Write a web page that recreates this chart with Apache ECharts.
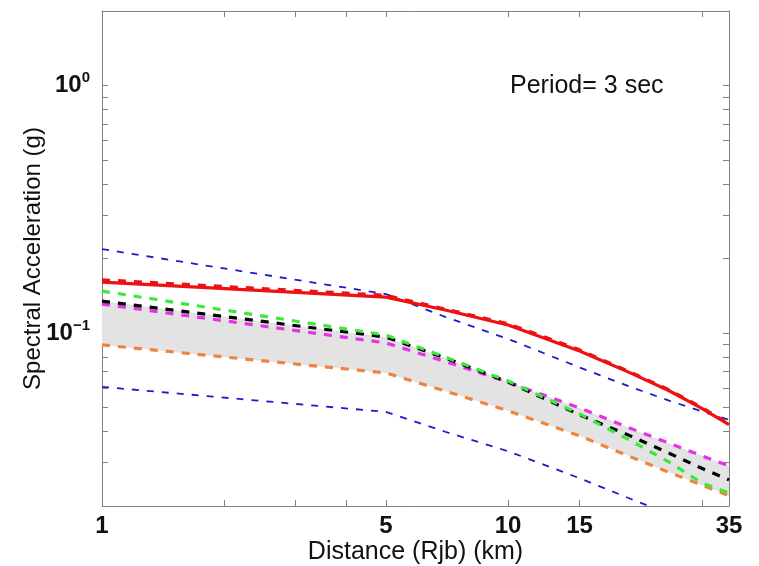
<!DOCTYPE html>
<html><head><meta charset="utf-8">
<script src="https://cdn.jsdelivr.net/npm/echarts@6/dist/echarts.min.js"></script>
<style>html,body{margin:0;padding:0;background:#fff}#c{width:759px;height:566px}</style>
</head><body><div id="c"></div>
<script>
// distances (km)
var dist = [1, 5, 7, 10, 15, 20, 25, 30, 35];
var distLower = [1, 5, 7, 10, 15, 20, 25];
// spectral acceleration (g)
var redSolid  = [0.1605, 0.1397, 0.1238, 0.1077, 0.0846, 0.0690, 0.0583, 0.0496, 0.0426];
var redDashed = [0.164, 0.142, 0.125, 0.109, 0.0855, 0.0695, 0.0588, 0.0500, 0.0430];
var blueUpper = [0.2182, 0.1437, 0.1162, 0.0946, 0.0726, 0.0606, 0.0532, 0.0482, 0.0446];
var green     = [0.1477, 0.0981, 0.0800, 0.0640, 0.0471, 0.0368, 0.0300, 0.0248, 0.0226];
var black     = [0.1346, 0.0963, 0.0793, 0.0634, 0.0467, 0.0384, 0.0326, 0.0284, 0.0255];
var magenta   = [0.1309, 0.0912, 0.0767, 0.0633, 0.0498, 0.0412, 0.0358, 0.0319, 0.0291];
var orange    = [0.0895, 0.0690, 0.0583, 0.0485, 0.0384, 0.0316, 0.0273, 0.0243, 0.0220];
var blueLower = [0.0606, 0.0480, 0.0399, 0.0333, 0.0259, 0.0214, 0.0185];
// ticks
var xLabelVals = [1, 5, 10, 15, 35];
var xTickVals = [1, 2, 3, 4, 5, 10, 15, 30, 35];
var yLabelVals = [0.1, 1];
var yTickVals = [0.02,0.03,0.04,0.05,0.06,0.07,0.08,0.09,0.1,0.2,0.3,0.4,0.5,0.6,0.7,0.8,0.9,1,2];

var FONT = 'Liberation Sans';
function pairs(xs, ys){ return xs.map(function(x,i){ return [x, ys[i]]; }); }
function lineSeries(name, xs, ys, color, width, dash, z){
  return { name: name, type: 'line', data: pairs(xs, ys), symbol: 'none', z: z || 3,
    lineStyle: { color: color, width: width, type: dash }, silent: true, animation: false };
}
var bandUpper = black.map(function(v,i){ return Math.max(v, magenta[i]); });

var chart = echarts.init(document.getElementById('c'), null, {renderer:'canvas'});
var axisCommon = {
  axisLine: { show: true, lineStyle: { color: '#808080', width: 1 } },
  splitLine: { show: false }
};
var option = {
  animation: false,
  grid: { left: 102, right: 30, top: 11, bottom: 60, show: false, containLabel: false, outerBoundsMode: 'none' },
  xAxis: [
    Object.assign({}, axisCommon, {
      type: 'log', logBase: 10, min: 1, max: 35, position: 'bottom',
      name: 'Distance (Rjb) (km)', nameLocation: 'middle', nameGap: 34, nameMoveOverlap: false,
      nameTextStyle: { fontFamily: FONT, fontSize: 25, color: '#111' },
      axisTick: { show: true, inside: true, length: 6, customValues: xTickVals, lineStyle: { color: '#808080' } },
      axisLabel: { show: true, customValues: xLabelVals, margin: 8, fontFamily: FONT, fontSize: 24, fontWeight: 'bold', color: '#111',
        formatter: function(v){ return String(v); } }
    }),
    Object.assign({}, axisCommon, {
      type: 'log', logBase: 10, min: 1, max: 35, position: 'top',
      axisTick: { show: true, inside: true, length: 6, customValues: xTickVals, lineStyle: { color: '#808080' } },
      axisLabel: { show: false }
    })
  ],
  yAxis: [
    Object.assign({}, axisCommon, {
      type: 'log', logBase: 10, min: 0.02, max: 2, position: 'left',
      name: 'Spectral Acceleration (g)', nameLocation: 'middle', nameGap: 57, nameRotate: 90, nameMoveOverlap: false,
      nameTextStyle: { fontFamily: FONT, fontSize: 24, color: '#111' },
      axisTick: { show: true, inside: true, length: 6, customValues: yTickVals, lineStyle: { color: '#808080' } },
      axisLabel: { show: true, customValues: yLabelVals, margin: 12,
        formatter: function(v){ return v >= 1 ? '{b|10}{s|0}' : '{b|10}{s|\u22121}'; },
        rich: {
          b: { fontFamily: FONT, fontSize: 24, fontWeight: 'bold', color: '#111', lineHeight: 30 },
          s: { fontFamily: FONT, fontSize: 15, fontWeight: 'bold', color: '#111', verticalAlign: 'top', lineHeight: 30, padding: [0,0,12,0] }
        } }
    }),
    Object.assign({}, axisCommon, {
      type: 'log', logBase: 10, min: 0.02, max: 2, position: 'right',
      axisTick: { show: true, inside: true, length: 6, customValues: yTickVals, lineStyle: { color: '#808080' } },
      axisLabel: { show: false }
    })
  ],
  graphic: [{
    type: 'text', left: 510, top: 74, z: 10,
    style: { text: 'Period= 3 sec', fontFamily: FONT, fontSize: 25, fill: '#111' }
  }],
  series: [
    { type: 'custom', z: 1, silent: true, clip: true,
      data: pairs(dist, bandUpper),
      encode: { x: 0, y: 1 },
      renderItem: function(params, api){
        if (params.dataIndex !== 0) return null;
        var pts = [];
        for (var i = 0; i < dist.length; i++) pts.push(api.coord([dist[i], bandUpper[i]]));
        for (var j = dist.length - 1; j >= 0; j--) pts.push(api.coord([dist[j], orange[j]]));
        return { type: 'polygon', shape: { points: pts }, style: { fill: '#e3e3e3' } };
      }
    },
    lineSeries('blueUpper', dist, blueUpper, '#1c1cc8', 1.8, [7, 8], 3),
    lineSeries('blueLower', distLower, blueLower, '#1c1cc8', 1.8, [7, 8], 3),
    lineSeries('orange', dist, orange, '#f0843c', 3.2, [8, 8], 4),
    lineSeries('magenta', dist, magenta, '#e632e6', 3.2, [8, 8], 4),
    lineSeries('black', dist, black, '#000000', 3.2, [8, 8], 5),
    lineSeries('green', dist, green, '#3de83d', 3.2, [8, 8], 5),
    lineSeries('redSolid', dist, redSolid, '#ee1111', 3.2, 'solid', 6),
    lineSeries('redDashed', dist, redDashed, '#ee1111', 3.2, [8, 8], 6)
  ]
};
chart.setOption(option);
</script></body></html>
